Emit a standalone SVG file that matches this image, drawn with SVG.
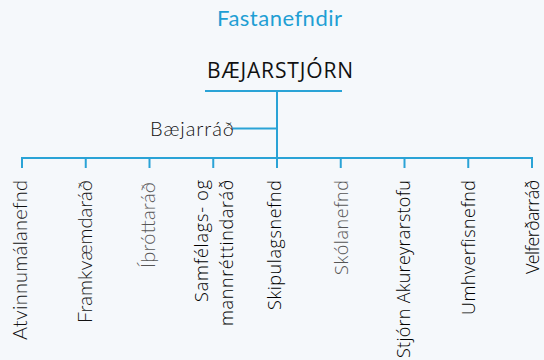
<svg xmlns="http://www.w3.org/2000/svg" width="544" height="360" viewBox="0 0 544 360">
<style>
.geo{font-family:Lato,"Open Sans",sans-serif;font-size:20px;font-weight:300;fill:#111}
.hum{font-family:"Open Sans","Noto Sans",sans-serif;font-size:18px;font-weight:300;fill:#000}
.grey{fill:#555}
.ln{stroke:#2aa3d6;stroke-width:2;fill:none}
</style>
<rect width="544" height="360" fill="#f5f8fb"/>
<text x="279.5" y="26" text-anchor="middle" font-family="Lato,'Open Sans',sans-serif" font-size="22" font-weight="400" fill="#1f9fd4" textLength="125">Fastanefndir</text>
<g id="connectors">
<line class="ln" x1="205" y1="91" x2="342" y2="91"/>
<line class="ln" x1="277" y1="91" x2="277" y2="168"/>
<line class="ln" x1="233" y1="128.5" x2="277" y2="128.5"/>
<line class="ln" x1="21" y1="158" x2="533" y2="158"/>
<line class="ln" x1="22" y1="157" x2="22" y2="168"/>
<line class="ln" x1="85.75" y1="157" x2="85.75" y2="168"/>
<line class="ln" x1="149.5" y1="157" x2="149.5" y2="168"/>
<line class="ln" x1="213.25" y1="157" x2="213.25" y2="168"/>
<line class="ln" x1="340.75" y1="157" x2="340.75" y2="168"/>
<line class="ln" x1="404.5" y1="157" x2="404.5" y2="168"/>
<line class="ln" x1="468.25" y1="157" x2="468.25" y2="168"/>
<line class="ln" x1="532" y1="157" x2="532" y2="168"/>
</g>
<g id="baejarstjorn"><text x="280" y="77.5" text-anchor="middle" font-family="'Open Sans','Noto Sans',sans-serif" font-size="21" fill="#111" textLength="146">BÆJARSTJÓRN</text></g>
<g id="baejarrad"><text x="150" y="135.5" class="geo" font-size="22" fill="#222" textLength="84">Bæjarráð</text></g>
<g id="atvinnumalanefnd"><text class="geo" text-anchor="end" textLength="160" transform="translate(26.7,180) rotate(-90)">Atvinnumálanefnd</text></g>
<g id="framkvaemdarad"><text class="geo" text-anchor="end" textLength="143" transform="translate(92.3,180) rotate(-90)">Framkvæmdaráð</text></g>
<g id="ithrottarad"><text class="geo grey" text-anchor="end" textLength="86" transform="translate(155,182) rotate(-90)">Íþróttaráð</text></g>
<g id="samfelags"><text class="hum" text-anchor="end" textLength="122" transform="translate(208,180) rotate(-90)">Samfélags- og</text><text class="hum" text-anchor="end" textLength="146" transform="translate(233,180) rotate(-90)">mannréttindaráð</text></g>
<g id="skipulagsnefnd"><text class="hum" text-anchor="end" textLength="130" transform="translate(281,180) rotate(-90)">Skipulagsnefnd</text></g>
<g id="skolanefnd"><text class="hum grey" text-anchor="end" textLength="95" transform="translate(348,180) rotate(-90)">Skólanefnd</text></g>
<g id="stjorn-akureyrarstofu"><text class="hum" text-anchor="end" textLength="178" transform="translate(410,180) rotate(-90)">Stjórn Akureyrarstofu</text></g>
<g id="umhverfisnefnd"><text class="hum" text-anchor="end" textLength="135" transform="translate(474.5,180) rotate(-90)">Umhverfisnefnd</text></g>
<g id="velferdarrad"><text class="hum" text-anchor="end" textLength="94" transform="translate(539,180) rotate(-90)">Velferðarráð</text></g>
</svg>
